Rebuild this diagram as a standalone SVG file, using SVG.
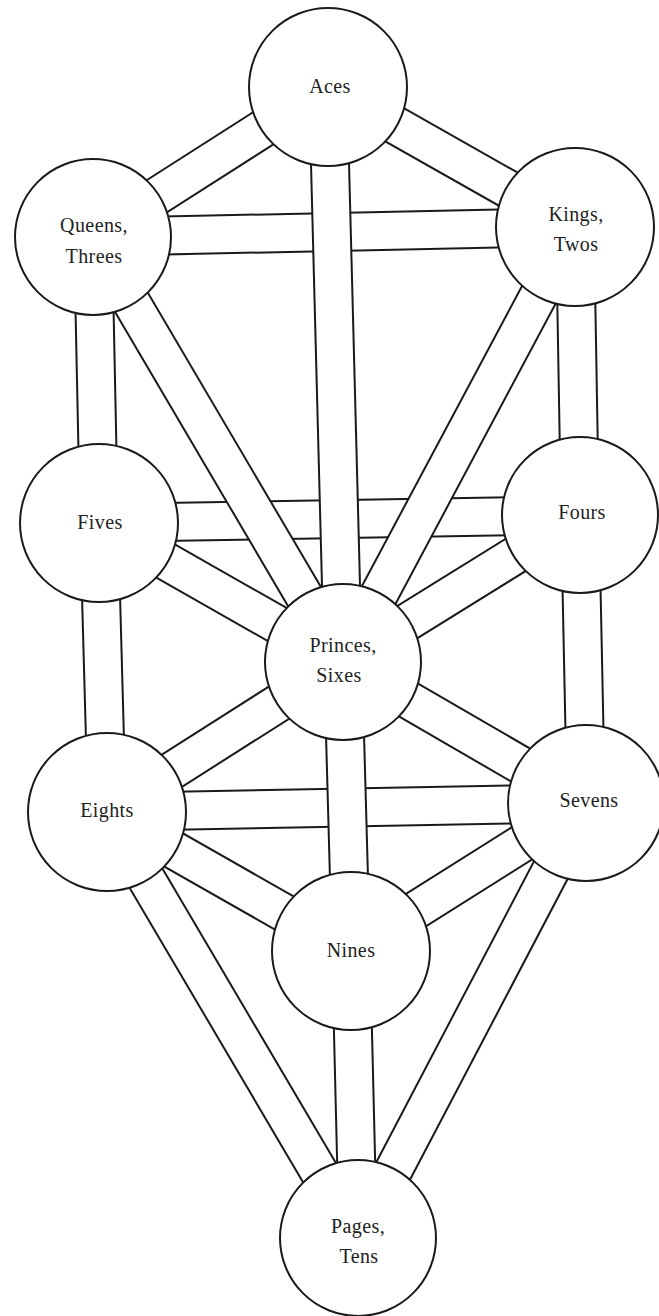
<svg xmlns="http://www.w3.org/2000/svg" width="659" height="1316" viewBox="0 0 659 1316">
<style>
.o{stroke:#1a1a1a;stroke-width:40;stroke-linecap:butt}
.i{stroke:#ffffff;stroke-width:36;stroke-linecap:butt}
.n circle{fill:#ffffff;stroke:#1a1a1a;stroke-width:2}
.n text{font-family:"Liberation Serif","DejaVu Serif",serif;font-size:20px;fill:#222;text-anchor:middle;letter-spacing:0.4px}
</style>
<rect width="659" height="1316" fill="#ffffff"/>
<g id="connectors">
<line class="o" x1="93" y1="237" x2="575" y2="227"/><line class="i" x1="93" y1="237" x2="575" y2="227"/>
<line class="o" x1="99" y1="523" x2="580" y2="515"/><line class="i" x1="99" y1="523" x2="580" y2="515"/>
<line class="o" x1="107" y1="812" x2="586" y2="803"/><line class="i" x1="107" y1="812" x2="586" y2="803"/>
<line class="o" x1="328" y1="87" x2="93" y2="237"/><line class="i" x1="328" y1="87" x2="93" y2="237"/>
<line class="o" x1="328" y1="87" x2="575" y2="227"/><line class="i" x1="328" y1="87" x2="575" y2="227"/>
<line class="o" x1="93" y1="237" x2="343" y2="662"/><line class="i" x1="93" y1="237" x2="343" y2="662"/>
<line class="o" x1="575" y1="227" x2="343" y2="662"/><line class="i" x1="575" y1="227" x2="343" y2="662"/>
<line class="o" x1="99" y1="523" x2="343" y2="662"/><line class="i" x1="99" y1="523" x2="343" y2="662"/>
<line class="o" x1="580" y1="515" x2="343" y2="662"/><line class="i" x1="580" y1="515" x2="343" y2="662"/>
<line class="o" x1="343" y1="662" x2="107" y2="812"/><line class="i" x1="343" y1="662" x2="107" y2="812"/>
<line class="o" x1="343" y1="662" x2="586" y2="803"/><line class="i" x1="343" y1="662" x2="586" y2="803"/>
<line class="o" x1="107" y1="812" x2="351" y2="951"/><line class="i" x1="107" y1="812" x2="351" y2="951"/>
<line class="o" x1="586" y1="803" x2="351" y2="951"/><line class="i" x1="586" y1="803" x2="351" y2="951"/>
<line class="o" x1="107" y1="812" x2="358" y2="1238"/><line class="i" x1="107" y1="812" x2="358" y2="1238"/>
<line class="o" x1="586" y1="803" x2="358" y2="1238"/><line class="i" x1="586" y1="803" x2="358" y2="1238"/>
<line class="o" x1="328" y1="87" x2="343" y2="662"/><line class="i" x1="328" y1="87" x2="343" y2="662"/>
<line class="o" x1="93" y1="237" x2="99" y2="523"/><line class="i" x1="93" y1="237" x2="99" y2="523"/>
<line class="o" x1="575" y1="227" x2="580" y2="515"/><line class="i" x1="575" y1="227" x2="580" y2="515"/>
<line class="o" x1="99" y1="523" x2="107" y2="812"/><line class="i" x1="99" y1="523" x2="107" y2="812"/>
<line class="o" x1="580" y1="515" x2="586" y2="803"/><line class="i" x1="580" y1="515" x2="586" y2="803"/>
<line class="o" x1="343" y1="662" x2="351" y2="951"/><line class="i" x1="343" y1="662" x2="351" y2="951"/>
<line class="o" x1="351" y1="951" x2="358" y2="1238"/><line class="i" x1="351" y1="951" x2="358" y2="1238"/>
</g>
<g id="aces" class="n"><circle cx="328" cy="87" r="79"/><text x="330" y="93">Aces</text></g>
<g id="queens" class="n"><circle cx="93" cy="237" r="78"/><text x="94" y="232">Queens,</text><text x="94" y="263">Threes</text></g>
<g id="kings" class="n"><circle cx="575" cy="227" r="79"/><text x="576" y="221">Kings,</text><text x="576" y="251">Twos</text></g>
<g id="fives" class="n"><circle cx="99" cy="523" r="79"/><text x="100" y="529">Fives</text></g>
<g id="fours" class="n"><circle cx="580" cy="515" r="78"/><text x="582" y="519">Fours</text></g>
<g id="princes" class="n"><circle cx="343" cy="662" r="78"/><text x="343" y="652">Princes,</text><text x="339" y="682">Sixes</text></g>
<g id="eights" class="n"><circle cx="107" cy="812" r="79"/><text x="107" y="817">Eights</text></g>
<g id="sevens" class="n"><circle cx="586" cy="803" r="78"/><text x="589" y="807">Sevens</text></g>
<g id="nines" class="n"><circle cx="351" cy="951" r="79"/><text x="351" y="957">Nines</text></g>
<g id="pages" class="n"><circle cx="358" cy="1238" r="78"/><text x="358" y="1233">Pages,</text><text x="359" y="1263">Tens</text></g>
</svg>
